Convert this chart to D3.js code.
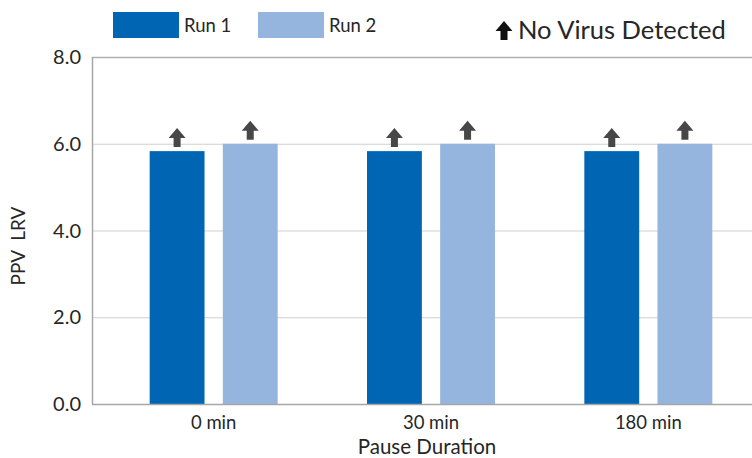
<!DOCTYPE html>
<html>
<head>
<meta charset="utf-8">
<script src="https://cdn.jsdelivr.net/npm/d3@7"></script>
<style>
    html, body { margin: 0; padding: 0; background: #fff; }
    #chart { width: 752px; height: 458px; }
    text { font-family: Lato, "Noto Sans", sans-serif; fill: #262626; }
</style>
</head>
<body>
<div id="chart"></div>
<script>

const categories = ['0 min', '30 min', '180 min'];
const seriesNames = ['Run 1', 'Run 2'];
const run1 = [5.83, 5.83, 5.83];
const run2 = [6.0, 6.0, 6.0];
const yTicks = [0, 2, 4, 6, 8];
const colors = ['#0065b3', '#95b5de'];

class BarChart {

    constructor() {
        this._width = 752;
        this._height = 458;
        this._margin = { left: 92, top: 57, right: 0, bottom: 54 };
    }

    renderTo(selector) {

        const svg = d3.select(selector)
            .append('svg')
            .attr('width', this._width)
            .attr('height', this._height);

        const x0 = d3.scaleBand()
            .domain(categories)
            .range([105, 757]);

        const half = x0.bandwidth() / 2;
        const x1 = d3.scaleBand()
            .domain(seriesNames)
            .range([half - 64, half + 64])
            .paddingInner(0.25);

        const y = d3.scaleLinear()
            .domain([0, 8])
            .range([this._height - this._margin.bottom, this._margin.top]);

        /*
         * Gridlines.
         */
        svg.append('g')
            .attr('class', 'grid')
            .selectAll('line')
            .data(yTicks.filter(d => d > 0))
            .join('line')
            .attr('x1', this._margin.left)
            .attr('x2', this._width)
            .attr('y1', d => y(d) + 0.5)
            .attr('y2', d => y(d) + 0.5)
            .attr('stroke', d => d === 8 ? '#b0b0b0' : '#cfcfcf')
            .attr('stroke-width', d => d === 8 ? 1.5 : 1);

        /*
         * Bars.
         */
        const rows = categories.map((c, i) => ({ cat: c, values: [run1[i], run2[i]] }));

        const groups = svg.append('g')
            .selectAll('g')
            .data(rows)
            .join('g')
            .attr('transform', d => 'translate(' + x0(d.cat) + ',0)');

        const bars = groups.selectAll('g')
            .data(d => d.values.map((v, i) => ({ name: seriesNames[i], value: v, idx: i })))
            .join('g');

        bars.append('rect')
            .attr('x', d => x1(d.name))
            .attr('width', x1.bandwidth())
            .attr('y', d => y(d.value))
            .attr('height', d => y(0) - y(d.value))
            .attr('fill', d => colors[d.idx]);

        /*
         * "No virus detected" arrows on top of every bar.
         */
        bars.append('path')
            .attr('d', d => this._arrow(x1(d.name) + x1.bandwidth() / 2, y(d.value) - 4))
            .attr('fill', '#474747');

        /*
         * Axis lines.
         */
        svg.append('line')
            .attr('x1', this._margin.left + 0.5)
            .attr('x2', this._margin.left + 0.5)
            .attr('y1', y(8))
            .attr('y2', y(0))
            .attr('stroke', '#a6a6a6')
            .attr('stroke-width', 1.5);

        svg.append('line')
            .attr('x1', this._margin.left)
            .attr('x2', this._width)
            .attr('y1', y(0) + 0.5)
            .attr('y2', y(0) + 0.5)
            .attr('stroke', '#a6a6a6')
            .attr('stroke-width', 1.5);

        /*
         * Tick labels.
         */
        svg.append('g')
            .selectAll('text')
            .data(yTicks)
            .join('text')
            .attr('x', 81)
            .attr('y', d => y(d))
            .attr('dy', '0.36em')
            .attr('text-anchor', 'end')
            .style('font-size', '20px')
            .text(d => d.toFixed(1));

        svg.append('g')
            .selectAll('text')
            .data(categories)
            .join('text')
            .attr('x', d => x0(d) + half)
            .attr('y', 429)
            .attr('text-anchor', 'middle')
            .style('font-size', '18.5px')
            .text(d => d);

        /*
         * Axis titles.
         */
        svg.append('text')
            .attr('x', 427)
            .attr('y', 454)
            .attr('text-anchor', 'middle')
            .style('font-size', '20.5px')
            .text('Pause Duration');

        svg.append('text')
            .attr('transform', 'translate(25,246) rotate(-90)')
            .attr('text-anchor', 'middle')
            .style('font-size', '19px')
            .style('white-space', 'pre')
            .text('PPV  LRV');

        /*
         * Legend.
         */
        const legendX = [113, 258];
        const legend = svg.append('g')
            .selectAll('g')
            .data(seriesNames)
            .join('g')
            .attr('transform', (d, i) => 'translate(' + legendX[i] + ',12)');

        legend.append('rect')
            .attr('width', 66)
            .attr('height', 26)
            .attr('fill', (d, i) => colors[i]);

        legend.append('text')
            .attr('x', 71)
            .attr('y', 13)
            .attr('dy', '0.36em')
            .style('font-size', '18.5px')
            .text(d => d);

        svg.append('path')
            .attr('d', this._arrow(504, 40, 1.0))
            .attr('fill', '#111');

        svg.append('text')
            .attr('x', 518)
            .attr('y', 39)
            .style('font-size', '25.5px')
            .text('No Virus Detected');

        return this;
    }

    /**
     * Up arrow, cx is the centre, bottom is the lower end of the stem.
     */
    _arrow(cx, bottom, s = 1) {

        const stemW = 3.5 * s;
        const headW = 8.5 * s;
        const stemH = 9 * s;
        const headH = 10 * s;

        return 'M' + (cx - stemW) + ',' + bottom +
            'L' + (cx - stemW) + ',' + (bottom - stemH) +
            'L' + (cx - headW) + ',' + (bottom - stemH) +
            'L' + cx + ',' + (bottom - stemH - headH) +
            'L' + (cx + headW) + ',' + (bottom - stemH) +
            'L' + (cx + stemW) + ',' + (bottom - stemH) +
            'L' + (cx + stemW) + ',' + bottom + 'Z';
    }
}

new BarChart().renderTo('#chart');

</script>
</body>
</html>
